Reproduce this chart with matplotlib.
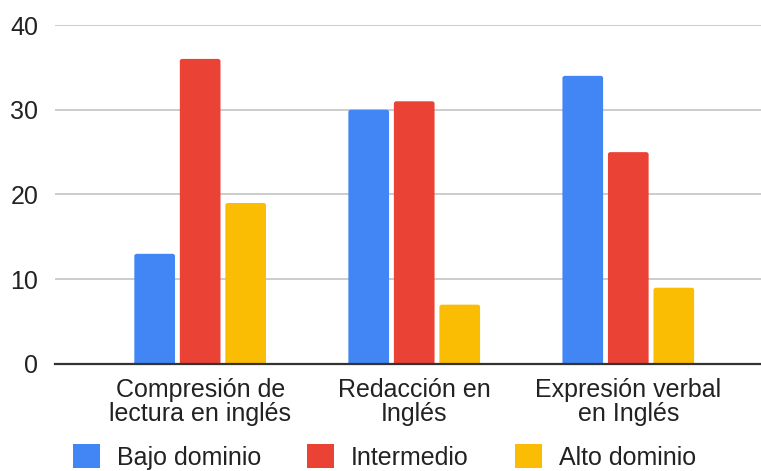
import matplotlib.pyplot as plt
import numpy as np
from matplotlib.patches import Patch, FancyBboxPatch

categories = ['Compresión de\nlectura en inglés', 'Redacción en\nInglés', 'Expresión verbal\nen Inglés']
series = ['Bajo dominio', 'Intermedio', 'Alto dominio']
bajo = [13, 30, 34]
intermedio = [36, 31, 25]
alto = [19, 7, 9]
colors = ['#4285f4', '#ea4335', '#fbbc04']

plt.rcParams['font.family'] = ['Liberation Sans', 'DejaVu Sans']

fig = plt.figure(figsize=(7.61, 4.71), dpi=100)
ax = fig.add_axes([0.0723, 0.2272, 0.9277, 0.7197])

x = np.arange(len(categories))
width = 0.19
step = 0.2126
for i, (vals, c) in enumerate(zip([bajo, intermedio, alto], colors)):
    bars = ax.bar(x + (i - 1) * step, vals, width, color=c, zorder=3)
    # swap the plain rectangles for ones with slightly rounded tops
    for b in bars:
        b.set_visible(False)
        ax.add_patch(FancyBboxPatch((b.get_x(), -1), b.get_width(), b.get_height() + 1,
                                    boxstyle="round,pad=0,rounding_size=0.012",
                                    mutation_aspect=22,
                                    facecolor=c, edgecolor='none', zorder=3))

ax.set_xlim(-0.678, 2.62)
ax.set_ylim(0, 40)
ax.set_yticks([0, 10, 20, 30, 40])
ax.yaxis.grid(True, color='#cccccc', linewidth=1.4, zorder=0)
ax.set_xticks(x)
ax.set_xticklabels(categories, fontsize=18, color='#222222', linespacing=1.02)
ax.tick_params(axis='both', length=0, labelsize=18, labelcolor='#222222')
ax.tick_params(axis='y', pad=12)
ax.tick_params(axis='x', pad=10)
for s in ['top', 'right', 'left']:
    ax.spines[s].set_visible(False)
ax.spines['bottom'].set_color('#333333')
ax.spines['bottom'].set_linewidth(1.6)
ax.spines['bottom'].set_zorder(4)

handles = [Patch(facecolor=c, edgecolor='none') for c in colors]
fig.legend(handles, series, loc='center', bbox_to_anchor=(0.505, 0.03), ncol=3,
           frameon=False, fontsize=18, handlelength=1.08, handleheight=1.08,
           handletextpad=0.68, columnspacing=1.84, labelcolor='#222222',
           borderpad=0, borderaxespad=0)

fig.savefig('out.png', dpi=100)
